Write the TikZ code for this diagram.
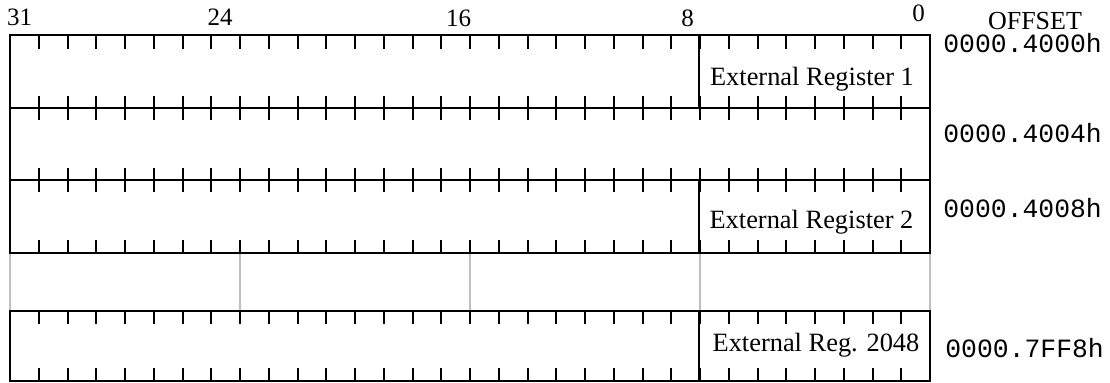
\documentclass[tikz,border=0pt]{standalone}
\usepackage{fontspec}
\setmainfont{Liberation Serif}
\setmonofont{Liberation Mono}

\begin{document}
\begin{tikzpicture}[x=0.5pt, y=-0.5pt,
    regrow/.style={draw=black, line width=1pt},
    bittick/.style={draw=black, line width=1pt},
    gapline/.style={draw=black!25, line width=1pt},
    bitnum/.style={font=\fontsize{12.5}{14}\selectfont, anchor=base, inner sep=0pt},
    regname/.style={font=\fontsize{13.2}{15}\selectfont, anchor=base, inner sep=0pt},
    offsettxt/.style={font=\ttfamily\fontsize{13.2}{15}\selectfont, anchor=base west, inner sep=0pt}]

    \useasboundingbox (0,0) rectangle (1110,383);

    % bit numbers and header
    \node [bitnum] (b31) at (19.5,26) {31};
    \node [bitnum] (b24) at (220,26) {24};
    \node [bitnum] (b16) at (458.5,27) {16};
    \node [bitnum] (b8) at (687.5,27) {8};
    \node [bitnum] (b0) at (918.5,22) {0};
    \node [bitnum, font=\fontsize{13}{15}\selectfont] (hdr) at (1035,30) {OFFSET};

    % register rows
    \draw [regrow] (10,35) rectangle (930,108);
    \draw [regrow] (10,108) rectangle (930,180);
    \draw [regrow] (10,180) rectangle (930,253);
    \draw [regrow] (10,311) rectangle (930,381);

    % skipped part of the map
    \foreach \k in {0,8,...,32}
        \draw [gapline] ({10+28.75*\k},254) -- ({10+28.75*\k},310);

    % bit ticks
    \foreach \k in {1,...,31} {
        \draw [bittick] ({10+28.75*\k},35) -- ++(0,14);
        \draw [bittick] ({10+28.75*\k},96) -- ++(0,24);
        \draw [bittick] ({10+28.75*\k},168) -- ++(0,24);
        \draw [bittick] ({10+28.75*\k},240) -- ++(0,13);
        \draw [bittick] ({10+28.75*\k},311) -- ++(0,13);
        \draw [bittick] ({10+28.75*\k},368) -- ++(0,13);
    }

    % field separators, bits 7..0
    \draw [regrow] (699,35) -- (699,108);
    \draw [regrow] (699,180) -- (699,253);
    \draw [regrow] (699,311) -- (699,381);

    \node [regname] (reg1) at (812,86) {External Register 1};
    \node [regname] (reg2) at (811.5,229) {External Register 2};
    \node [regname] (reg2048) at (816,352) {External Reg. 2048};

    % offsets
    \node [offsettxt] (off1) at (943,53) {0000.4000h};
    \node [offsettxt] (off2) at (943,143) {0000.4004h};
    \node [offsettxt] (off3) at (943,218) {0000.4008h};
    \node [offsettxt] (off4) at (945,358) {0000.7FF8h};
\end{tikzpicture}
\end{document}
